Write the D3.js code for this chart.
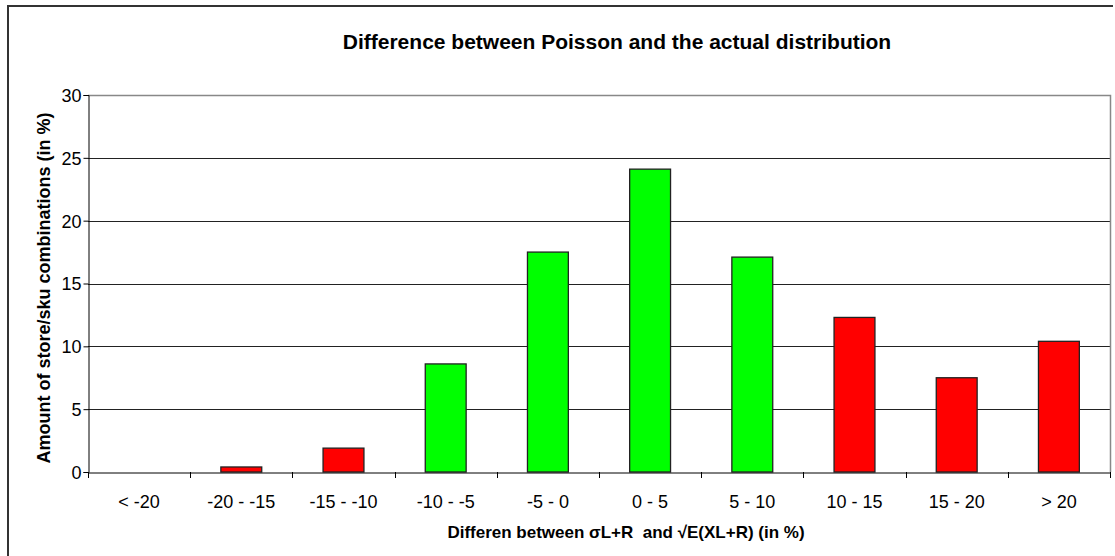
<!DOCTYPE html>
<html>
<head>
<meta charset="utf-8">
<script src="https://cdn.jsdelivr.net/npm/d3@7"></script>
<style>
  body { margin: 0; background: #fff; }
  text { font-family: "Liberation Sans", Arial, sans-serif; fill: #000; }
</style>
</head>
<body>
<script>
// categorias y valores (en %)
var categorias = ["< -20", "-20 - -15", "-15 - -10", "-10 - -5", "-5 - 0",
                  "0 - 5", "5 - 10", "10 - 15", "15 - 20", "> 20"];
var porcentajes = [0, 0.4, 1.9, 8.6, 17.5, 24.1, 17.1, 12.3, 7.5, 10.4];
var colores = ["red", "red", "red", "green", "green",
               "green", "green", "red", "red", "red"];
var ticksY = [0, 5, 10, 15, 20, 25, 30];

var vis = {
  width: 1115,
  height: 556,
  left: 88,
  right: 1110,
  top: 95,
  bottom: 472
};

var svg = d3.select("body").append("svg")
  .attr("width", vis.width)
  .attr("height", vis.height);

// marco exterior
svg.append("path")
  .attr("d", "M8,560 L8,6 L1113,6")
  .attr("fill", "none")
  .attr("stroke", "#333")
  .attr("stroke-width", 2);

var x = d3.scaleBand()
  .domain(categorias)
  .range([vis.left, vis.right])
  .paddingInner(0.6)
  .paddingOuter(0.3);

var xTicks = d3.scaleBand()
  .domain(categorias)
  .range([vis.left, vis.right]);

var y = d3.scaleLinear()
  .domain([0, 30])
  .range([vis.bottom, vis.top]);

// lineas de la rejilla
svg.selectAll("line.grid")
  .data(ticksY.slice(1, -1))
  .enter()
  .append("line")
  .attr("class", "grid")
  .attr("x1", vis.left)
  .attr("x2", vis.right)
  .attr("y1", function(d) { return Math.round(y(d)) + 0.5; })
  .attr("y2", function(d) { return Math.round(y(d)) + 0.5; })
  .attr("stroke", "#222")
  .attr("stroke-width", 1);

// borde del area del grafico
svg.append("path")
  .attr("d", "M" + vis.left + "," + (vis.top + 0.5) + " L" + (vis.right + 0.5) + "," + (vis.top + 0.5) +
             " L" + (vis.right + 0.5) + "," + vis.bottom)
  .attr("fill", "none")
  .attr("stroke", "#888")
  .attr("stroke-width", 1.5);

// barras
svg.selectAll("rect.barra")
  .data(porcentajes)
  .enter()
  .append("rect")
  .attr("class", "barra")
  .attr("x", function(d, i) { return x(categorias[i]); })
  .attr("y", function(d) { return y(d); })
  .attr("width", x.bandwidth())
  .attr("height", function(d) { return y(0) - y(d); })
  .attr("fill", function(d, i) { return colores[i] == "red" ? "#ff0000" : "#00ff00"; })
  .attr("stroke", function(d) { return d > 0 ? "#222" : "none"; })
  .attr("stroke-width", 1.3);

// eje Y
var ejeY = svg.append("g")
  .attr("transform", "translate(" + (vis.left + 0.5) + ",0)")
  .call(d3.axisLeft(y).tickValues(ticksY).tickSize(5).tickPadding(2));
ejeY.select(".domain").attr("stroke", "#000");
ejeY.selectAll("text")
  .attr("dy", "0.36em")
  .style("font-size", "18px")
  .style("font-family", "Liberation Sans, Arial, sans-serif");

// eje X
var ejeX = svg.append("g")
  .attr("transform", "translate(0," + (vis.bottom + 0.5) + ")")
  .call(d3.axisBottom(xTicks).tickValues([]).tickSizeOuter(0));
ejeX.select(".domain").attr("stroke", "#000");

svg.selectAll("line.tickx")
  .data(categorias.concat(["fin"]))
  .enter()
  .append("line")
  .attr("class", "tickx")
  .attr("x1", function(d, i) { return Math.round(vis.left + i * xTicks.step()) + 0.5; })
  .attr("x2", function(d, i) { return Math.round(vis.left + i * xTicks.step()) + 0.5; })
  .attr("y1", vis.bottom)
  .attr("y2", vis.bottom + 6)
  .attr("stroke", "#000");

svg.selectAll("text.etiqueta")
  .data(categorias)
  .enter()
  .append("text")
  .attr("class", "etiqueta")
  .attr("x", function(d) { return xTicks(d) + xTicks.bandwidth() / 2; })
  .attr("y", 508)
  .attr("text-anchor", "middle")
  .style("font-size", "18px")
  .text(function(d) { return d; });

// titulo
svg.append("text")
  .attr("x", 617)
  .attr("y", 49)
  .attr("text-anchor", "middle")
  .style("font-size", "21px")
  .style("font-weight", "bold")
  .text("Difference between Poisson and the actual distribution");

// titulo eje X
svg.append("text")
  .attr("x", 626)
  .attr("y", 538)
  .attr("text-anchor", "middle")
  .style("font-size", "17px")
  .style("font-weight", "bold")
  .attr("xml:space", "preserve")
  .text("Differen between \u03c3L+R  and \u221aE(XL+R) (in %)");

// titulo eje Y
svg.append("text")
  .attr("transform", "translate(50," + 288 + ") rotate(-90)")
  .attr("text-anchor", "middle")
  .style("font-size", "18px")
  .style("font-weight", "bold")
  .text("Amount of store/sku combinations (in %)");
</script>
</body>
</html>
